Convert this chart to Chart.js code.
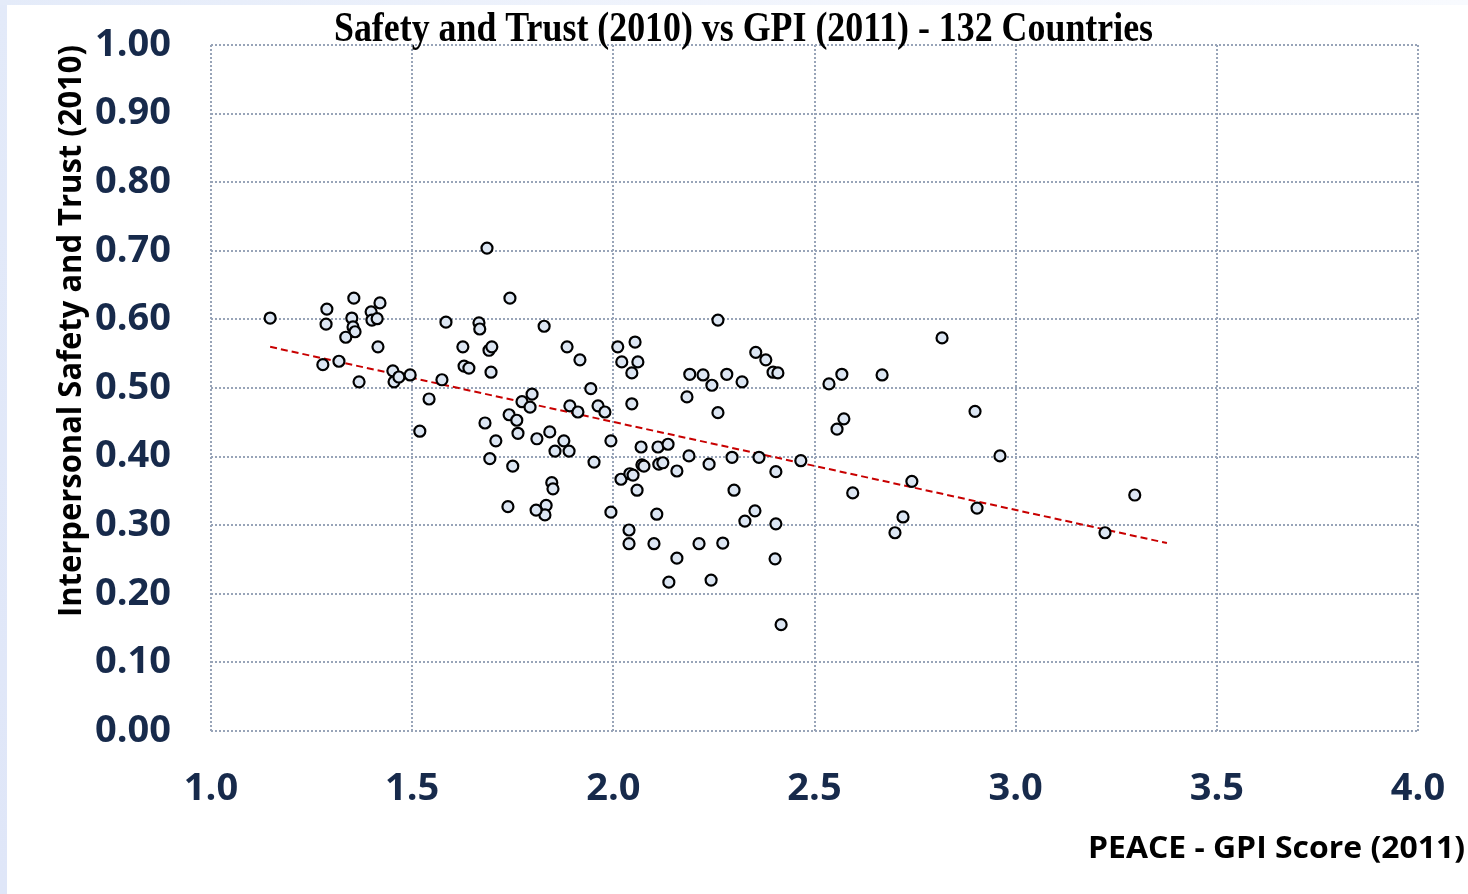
<!DOCTYPE html>
<html>
<head>
<meta charset="utf-8">
<script src="https://cdn.jsdelivr.net/npm/chart.js@4/dist/chart.umd.min.js"></script>
<style>
  html, body { margin: 0; padding: 0; background: #ffffff; width: 1468px; height: 894px; overflow: hidden; }
  #leftStrip { position: absolute; left: 0; top: 0; width: 7px; height: 894px; background: linear-gradient(#e3eaf9, #dfe6f8); }
  #topStrip { position: absolute; left: 0; top: 0; width: 1468px; height: 5px; background: linear-gradient(90deg, #e4ebf9, #f3f6fd 60%, #f8fafe); }
  #wrap { position: absolute; left: 0; top: 0; width: 1468px; height: 894px; }
</style>
</head>
<body>
<div id="leftStrip"></div>
<div id="topStrip"></div>
<div id="wrap"><canvas id="c" width="1468" height="894"></canvas></div>
<script>
// ---- Data ----
const chartTitle = "Safety and Trust (2010) vs GPI (2011) - 132 Countries";
const xAxisTitle = "PEACE - GPI Score (2011)";
const yAxisTitle = "Interpersonal Safety and Trust (2010)";

const xTickValues = [1.0, 1.5, 2.0, 2.5, 3.0, 3.5, 4.0];
const yTickValues = [0.00, 0.10, 0.20, 0.30, 0.40, 0.50, 0.60, 0.70, 0.80, 0.90, 1.00];

// GPI score (2011) per country
const gpiScore = [
  1.147, 1.288, 1.286, 1.278, 1.318, 1.355, 1.350, 1.353, 1.358, 1.335,
  1.368, 1.398, 1.400, 1.413, 1.420, 1.415, 1.452, 1.455, 1.467, 1.495,
  1.542, 1.519, 1.574, 1.584, 1.626, 1.629, 1.641, 1.686, 1.666, 1.668,
  1.691, 1.698, 1.696, 1.743, 1.681, 1.708, 1.693, 1.741, 1.760, 1.763,
  1.750, 1.738, 1.773, 1.798, 1.793, 1.810, 1.828, 1.842, 1.855, 1.847,
  1.850, 1.833, 1.830, 1.808, 1.885, 1.892, 1.877, 1.890, 1.917, 1.912,
  1.944, 1.962, 1.979, 1.952, 1.994, 1.994, 2.011, 2.021, 2.054, 2.061,
  2.046, 2.046, 2.019, 2.041, 2.049, 2.069, 2.059, 2.039, 2.039, 2.071,
  2.076, 2.113, 2.123, 2.111, 2.136, 2.108, 2.101, 2.138, 2.158, 2.158,
  2.190, 2.183, 2.188, 2.223, 2.245, 2.260, 2.260, 2.238, 2.213, 2.243,
  2.272, 2.282, 2.295, 2.300, 2.320, 2.327, 2.354, 2.379, 2.397, 2.409,
  2.362, 2.352, 2.404, 2.404, 2.402, 2.417, 2.466, 2.536, 2.568, 2.556,
  2.573, 2.595, 2.668, 2.742, 2.720, 2.700, 2.817, 2.899, 2.904, 2.961,
  3.222, 3.296
];

// Interpersonal safety and trust (2010) per country
const safetyTrust = [
  0.602, 0.615, 0.593, 0.534, 0.539, 0.631, 0.602, 0.589, 0.582, 0.574,
  0.509, 0.611, 0.599, 0.601, 0.624, 0.560, 0.525, 0.509, 0.516, 0.519,
  0.484, 0.437, 0.512, 0.596, 0.560, 0.532, 0.529, 0.704, 0.595, 0.586,
  0.555, 0.560, 0.523, 0.631, 0.449, 0.423, 0.397, 0.461, 0.453, 0.434,
  0.386, 0.327, 0.480, 0.491, 0.472, 0.426, 0.590, 0.436, 0.408, 0.362,
  0.353, 0.329, 0.315, 0.322, 0.560, 0.474, 0.423, 0.408, 0.541, 0.465,
  0.499, 0.474, 0.465, 0.392, 0.423, 0.319, 0.560, 0.538, 0.567, 0.538,
  0.522, 0.477, 0.367, 0.375, 0.373, 0.414, 0.351, 0.293, 0.273, 0.388,
  0.386, 0.389, 0.391, 0.414, 0.418, 0.316, 0.273, 0.217, 0.379, 0.252,
  0.520, 0.487, 0.401, 0.519, 0.504, 0.599, 0.464, 0.389, 0.273, 0.220,
  0.274, 0.520, 0.399, 0.351, 0.509, 0.306, 0.552, 0.541, 0.523, 0.522,
  0.399, 0.321, 0.378, 0.302, 0.251, 0.155, 0.394, 0.506, 0.520, 0.440,
  0.455, 0.347, 0.519, 0.364, 0.312, 0.289, 0.573, 0.466, 0.325, 0.401,
  0.289, 0.344
];

// Linear trend line end points (as drawn in the reference)
const trendX = [1.147, 3.376];
const trendY = [0.560, 0.274];

// ---- Build chart ----
const points = gpiScore.map((x, i) => ({ x: x, y: safetyTrust[i] }));
const trendPoints = trendX.map((x, i) => ({ x: x, y: trendY[i] }));

const tickColor = '#172a4b';
const gridColor = '#98a4b8';

function fitText(ctx, text, targetWidth) {
  const w = ctx.measureText(text).width;
  return targetWidth / w;
}

const titlesPlugin = {
  id: 'titlesPlugin',
  afterDraw(chart) {
    const ctx = chart.ctx;
    // Chart title (serif, condensed)
    ctx.save();
    ctx.font = 'bold 42px "Liberation Serif", "DejaVu Serif", serif';
    ctx.fillStyle = '#000000';
    ctx.textAlign = 'center';
    ctx.textBaseline = 'alphabetic';
    let s = fitText(ctx, chartTitle, 819);
    ctx.translate(743.5, 41);
    ctx.scale(s, 1);
    ctx.fillText(chartTitle, 0, 0);
    ctx.restore();

    // X axis title
    ctx.save();
    ctx.font = 'bold 30px "Open Sans", sans-serif';
    ctx.fillStyle = '#000000';
    ctx.textAlign = 'right';
    ctx.textBaseline = 'alphabetic';
    s = fitText(ctx, xAxisTitle, 377);
    ctx.translate(1465, 858);
    ctx.scale(s, 1);
    ctx.fillText(xAxisTitle, 0, 0);
    ctx.restore();

    // Y axis title (rotated)
    ctx.save();
    ctx.font = 'bold 33px "Open Sans", sans-serif';
    ctx.fillStyle = '#000000';
    ctx.textAlign = 'left';
    ctx.textBaseline = 'alphabetic';
    s = fitText(ctx, yAxisTitle, 572);
    ctx.translate(81, 617);
    ctx.rotate(-Math.PI / 2);
    ctx.scale(s, 1);
    ctx.fillText(yAxisTitle, 0, 0);
    ctx.restore();
  }
};

new Chart(document.getElementById('c'), {
  type: 'scatter',
  data: {
    datasets: [
      {
        label: 'Countries',
        data: points,
        pointRadius: 5.5,
        pointHoverRadius: 5.5,
        pointBackgroundColor: '#dce6f3',
        pointBorderColor: '#000000',
        pointBorderWidth: 2.2,
        showLine: false
      },
      {
        label: 'Trend',
        type: 'line',
        data: trendPoints,
        borderColor: '#c80000',
        borderWidth: 2,
        borderDash: [7, 4],
        pointRadius: 0,
        fill: false,
        tension: 0
      }
    ]
  },
  options: {
    responsive: false,
    animation: false,
    events: [],
    layout: { padding: { top: 45, right: 50, bottom: 0, left: 0 } },
    plugins: {
      legend: { display: false },
      title: { display: false },
      tooltip: { enabled: false }
    },
    scales: {
      x: {
        type: 'linear',
        min: xTickValues[0],
        max: xTickValues[xTickValues.length - 1],
        afterBuildTicks: (scale) => { scale.ticks = xTickValues.map(v => ({ value: v })); },
        afterFit: (scale) => {
          scale.height = 163;
          scale.paddingLeft = 0; scale.paddingRight = 0;
          scale.paddingTop = 0; scale.paddingBottom = 0;
        },
        border: { display: false, dash: [2, 2] },
        grid: { color: gridColor, lineWidth: 2, drawTicks: false },
        ticks: {
          color: tickColor,
          font: { family: '"Open Sans", sans-serif', size: 38, weight: 'bold' },
          padding: 35,
          maxRotation: 0,
          callback: (v) => Number(v).toFixed(1)
        }
      },
      y: {
        type: 'linear',
        min: yTickValues[0],
        max: yTickValues[yTickValues.length - 1],
        afterBuildTicks: (scale) => { scale.ticks = yTickValues.map(v => ({ value: v })); },
        afterFit: (scale) => {
          scale.width = 211;
          scale.paddingLeft = 0; scale.paddingRight = 0;
          scale.paddingTop = 0; scale.paddingBottom = 0;
        },
        border: { display: false, dash: [2, 2] },
        grid: { color: gridColor, lineWidth: 2, drawTicks: false },
        ticks: {
          color: tickColor,
          font: { family: '"Open Sans", sans-serif', size: 38, weight: 'bold' },
          padding: 40,
          callback: (v) => Number(v).toFixed(2)
        }
      }
    }
  },
  plugins: [titlesPlugin]
});
</script>
</body>
</html>
